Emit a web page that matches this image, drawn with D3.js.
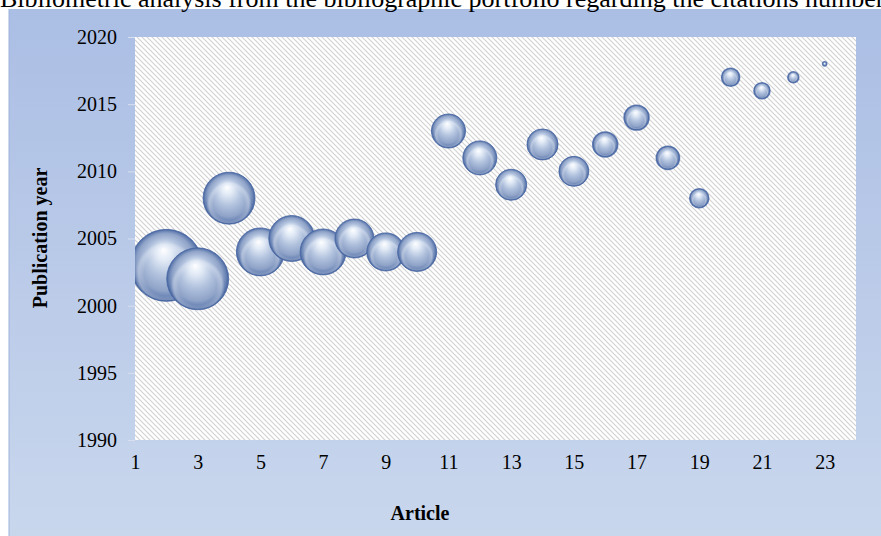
<!DOCTYPE html>
<html>
<head>
<meta charset="utf-8">
<script src="https://cdn.jsdelivr.net/npm/d3@7"></script>
<style>
  html, body { margin: 0; padding: 0; background: #ffffff; }
  svg { display: block; }
  text { font-family: "Liberation Serif", "Times New Roman", serif; fill: #000; }
</style>
</head>
<body>
<svg id="chart" width="881" height="536"></svg>
<script>
// Article index, publication year and citation count of each article
const articles = [2, 3, 4, 5, 6, 7, 8, 9, 10, 11, 12, 13, 14, 15, 16, 17, 18, 19, 20, 21, 22, 23];
const years = [2003, 2002, 2008, 2004, 2005, 2004, 2005, 2004, 2004, 2013, 2011, 2009, 2012, 2010, 2012, 2014, 2011, 2008, 2017, 2016, 2017, 2018];
const citations = [300, 222, 156, 133, 122, 122, 88, 84, 88, 67, 67, 56, 56, 52, 36, 36, 31, 21, 19, 15, 7, 1];

const xTicks = [1, 3, 5, 7, 9, 11, 13, 15, 17, 19, 21, 23];
const yTicks = [1990, 1995, 2000, 2005, 2010, 2015, 2020];

const titleText = "Bibliometric analysis from the bibliographic portfolio regarding the citations number";

const W = 881, H = 536;
const plot = { left: 135, top: 37, right: 856, bottom: 440 };
const serif = "Liberation Serif, Times New Roman, serif";

const svg = d3.select("#chart");
const defs = svg.append("defs");

// Panel background gradient
const bg = defs.append("linearGradient").attr("id", "panelGrad")
  .attr("x1", 0).attr("y1", 0).attr("x2", 0).attr("y2", 1);
bg.append("stop").attr("offset", "0%").attr("stop-color", "#abbee4");
bg.append("stop").attr("offset", "100%").attr("stop-color", "#c9d7ed");

// Diagonal hatch fill for the plot area
const hatch = defs.append("pattern").attr("id", "hatch")
  .attr("patternUnits", "userSpaceOnUse").attr("width", 5).attr("height", 5);
hatch.append("rect").attr("width", 5).attr("height", 5).attr("fill", "#ffffff");
hatch.append("path").attr("d", "M-1,-1 L6,6 M-1,4 L1,6 M4,-1 L6,1")
  .attr("stroke", "#d3d3d3").attr("stroke-width", 1.2);

// Glossy sphere shading for the bubbles
const sphere = defs.append("radialGradient").attr("id", "sphere")
  .attr("cx", "50%").attr("cy", "50%").attr("r", "50%")
  .attr("fx", "46%").attr("fy", "28%");
sphere.append("stop").attr("offset", "0%").attr("stop-color", "#ffffff");
sphere.append("stop").attr("offset", "20%").attr("stop-color", "#e4ecf7");
sphere.append("stop").attr("offset", "52%").attr("stop-color", "#b0c1dd");
sphere.append("stop").attr("offset", "80%").attr("stop-color", "#8fa3c8");
sphere.append("stop").attr("offset", "93%").attr("stop-color", "#6580b2");
sphere.append("stop").attr("offset", "100%").attr("stop-color", "#43619a");

// Soft reflected light along the lower rim
const glow = defs.append("radialGradient").attr("id", "rimGlow")
  .attr("cx", "50%").attr("cy", "62%").attr("r", "45%");
glow.append("stop").attr("offset", "70%").attr("stop-color", "#ffffff").attr("stop-opacity", 0);
glow.append("stop").attr("offset", "88%").attr("stop-color", "#e8eef8").attr("stop-opacity", 0.35);
glow.append("stop").attr("offset", "100%").attr("stop-color", "#ffffff").attr("stop-opacity", 0);

defs.append("clipPath").attr("id", "plotClip")
  .append("rect").attr("x", plot.left).attr("y", plot.top)
  .attr("width", plot.right - plot.left).attr("height", plot.bottom - plot.top);

// Chart panel
svg.append("rect").attr("x", 9).attr("y", 9).attr("width", W - 9).attr("height", H - 9)
  .attr("fill", "url(#panelGrad)");
svg.append("line").attr("x1", 9).attr("x2", 9).attr("y1", 9).attr("y2", H)
  .attr("stroke", "#9fb2da").attr("stroke-width", 1);

// Title line across the top
svg.append("text").attr("x", 0).attr("y", 7)
  .attr("font-size", 26).text(titleText);

// Scales
const x = d3.scaleLinear().domain([1, 24]).range([plot.left, plot.right]);
const y = d3.scaleLinear().domain([1990, 2020]).range([plot.bottom, plot.top]);
const r = d3.scaleSqrt().domain([0, d3.max(citations)]).range([0, 36]);

// Plot area
svg.append("rect").attr("x", plot.left).attr("y", plot.top)
  .attr("width", plot.right - plot.left).attr("height", plot.bottom - plot.top)
  .attr("fill", "url(#hatch)");

// Axes
const yAxis = svg.append("g").attr("transform", `translate(${plot.left},0)`)
  .call(d3.axisLeft(y).tickValues(yTicks).tickFormat(d3.format("d")).tickSize(7).tickPadding(11));
yAxis.select(".domain").remove();
yAxis.selectAll(".tick line").attr("stroke", "#d8dfee");
yAxis.selectAll(".tick text").attr("font-size", 20)
  .attr("font-family", serif).attr("fill", "#000");

const xAxis = svg.append("g").attr("transform", `translate(0,${plot.bottom})`)
  .call(d3.axisBottom(x).tickValues(xTicks).tickFormat(d3.format("d")).tickSize(0).tickPadding(15));
xAxis.select(".domain").remove();
xAxis.selectAll(".tick text").attr("font-size", 20)
  .attr("font-family", serif).attr("fill", "#000");

// Axis titles
svg.append("text").attr("x", 420).attr("y", 520).attr("text-anchor", "middle")
  .attr("font-size", 20).attr("font-weight", "bold").text("Article");
svg.append("text").attr("transform", "translate(47,238) rotate(-90)")
  .attr("text-anchor", "middle").attr("font-size", 20).attr("font-weight", "bold")
  .text("Publication year");

// Bubbles: sphere body, then lower-rim reflection
const data = articles.map((a, i) => ({ a, yr: years[i], c: citations[i] }));
const bubbles = svg.append("g").attr("clip-path", "url(#plotClip)")
  .selectAll("g").data(data).join("g")
  .attr("transform", d => `translate(${x(d.a)},${y(d.yr)})`);
bubbles.append("circle")
  .attr("r", d => r(d.c))
  .attr("fill", "url(#sphere)")
  .attr("stroke", "#4a69a6")
  .attr("stroke-width", d => r(d.c) > 14 ? 1 : 1.5)
  .attr("stroke-opacity", 0.85);
bubbles.append("circle")
  .attr("r", d => Math.max(r(d.c) - 1, 0))
  .attr("fill", "url(#rimGlow)");
</script>
</body>
</html>
